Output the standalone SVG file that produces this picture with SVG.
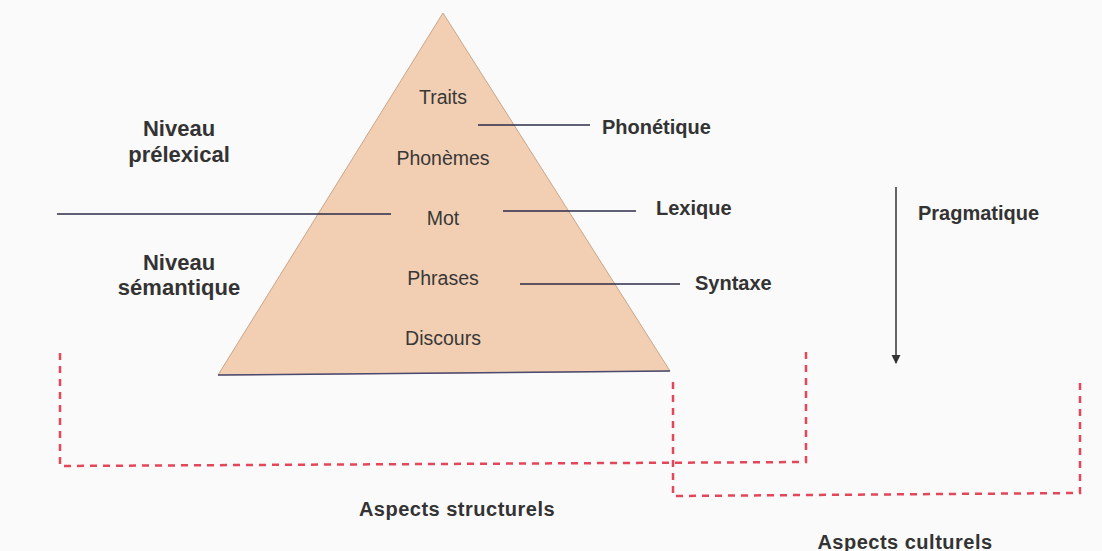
<svg xmlns="http://www.w3.org/2000/svg" width="1102" height="551" viewBox="0 0 1102 551">
<style>
.lbl{font-family:"Liberation Sans",Arial,sans-serif;font-size:19.5px;fill:#383838;text-anchor:middle}
.bold{font-family:"Liberation Sans",Arial,sans-serif;font-size:20px;font-weight:bold;fill:#333}
.big{font-family:"Liberation Sans",Arial,sans-serif;font-size:22px;font-weight:bold;fill:#333;text-anchor:middle}
.asp{font-family:"Liberation Sans",Arial,sans-serif;font-size:20px;font-weight:bold;fill:#333;text-anchor:middle;letter-spacing:0.5px}
.ln{stroke:#2b2b48;stroke-width:1.5;fill:none}
.dash{stroke:#e4465a;stroke-width:2.5;stroke-dasharray:7 6;fill:none}
</style>
<defs>
<marker id="arr" viewBox="0 0 10 10" refX="9" refY="5" markerWidth="9" markerHeight="10" markerUnits="userSpaceOnUse" orient="auto">
<path d="M0,0 L10,5 L0,10 z" fill="#333"/>
</marker>
</defs>
<rect width="1102" height="551" fill="#fbfafa"/>
<g id="pyramid">
<polygon points="443,13 218,375 670,371" fill="#f2cfb3" stroke="#c9a58a" stroke-width="1"/>
<line x1="218" y1="375" x2="670" y2="371" stroke="#4a4a70" stroke-width="1.5"/>
<text class="lbl" x="443" y="104">Traits</text>
<text class="lbl" x="443" y="165">Phonèmes</text>
<text class="lbl" x="443" y="225">Mot</text>
<text class="lbl" x="443" y="285">Phrases</text>
<text class="lbl" x="443" y="345">Discours</text>
</g>
<g id="connectors">
<line class="ln" x1="478" y1="125" x2="590" y2="125"/>
<line class="ln" x1="57" y1="214" x2="391" y2="214"/>
<line class="ln" x1="503" y1="211" x2="636" y2="211"/>
<line class="ln" x1="520" y1="284" x2="680" y2="284"/>
<line x1="896" y1="187" x2="896" y2="363" stroke="#333" stroke-width="1.5" marker-end="url(#arr)"/>
</g>
<g id="phonetique"><text class="bold" x="602" y="134">Phonétique</text></g>
<g id="lexique"><text class="bold" x="656" y="215">Lexique</text></g>
<g id="syntaxe"><text class="bold" x="695" y="290">Syntaxe</text></g>
<g id="pragmatique"><text class="bold" x="918" y="220">Pragmatique</text></g>
<g id="prelexical"><text class="big" x="179" y="136">Niveau</text><text class="big" x="179" y="162">prélexical</text></g>
<g id="semantique"><text class="big" x="179" y="270">Niveau</text><text class="big" x="179" y="295">sémantique</text></g>
<g id="structurels">
<polyline class="dash" points="60,353 60,466 806,462 806,352"/>
<text class="asp" x="457" y="516">Aspects structurels</text>
</g>
<g id="culturels">
<polyline class="dash" points="673,382 673,496 1080,493 1080,380"/>
<text class="asp" x="905" y="549">Aspects culturels</text>
</g>
</svg>
